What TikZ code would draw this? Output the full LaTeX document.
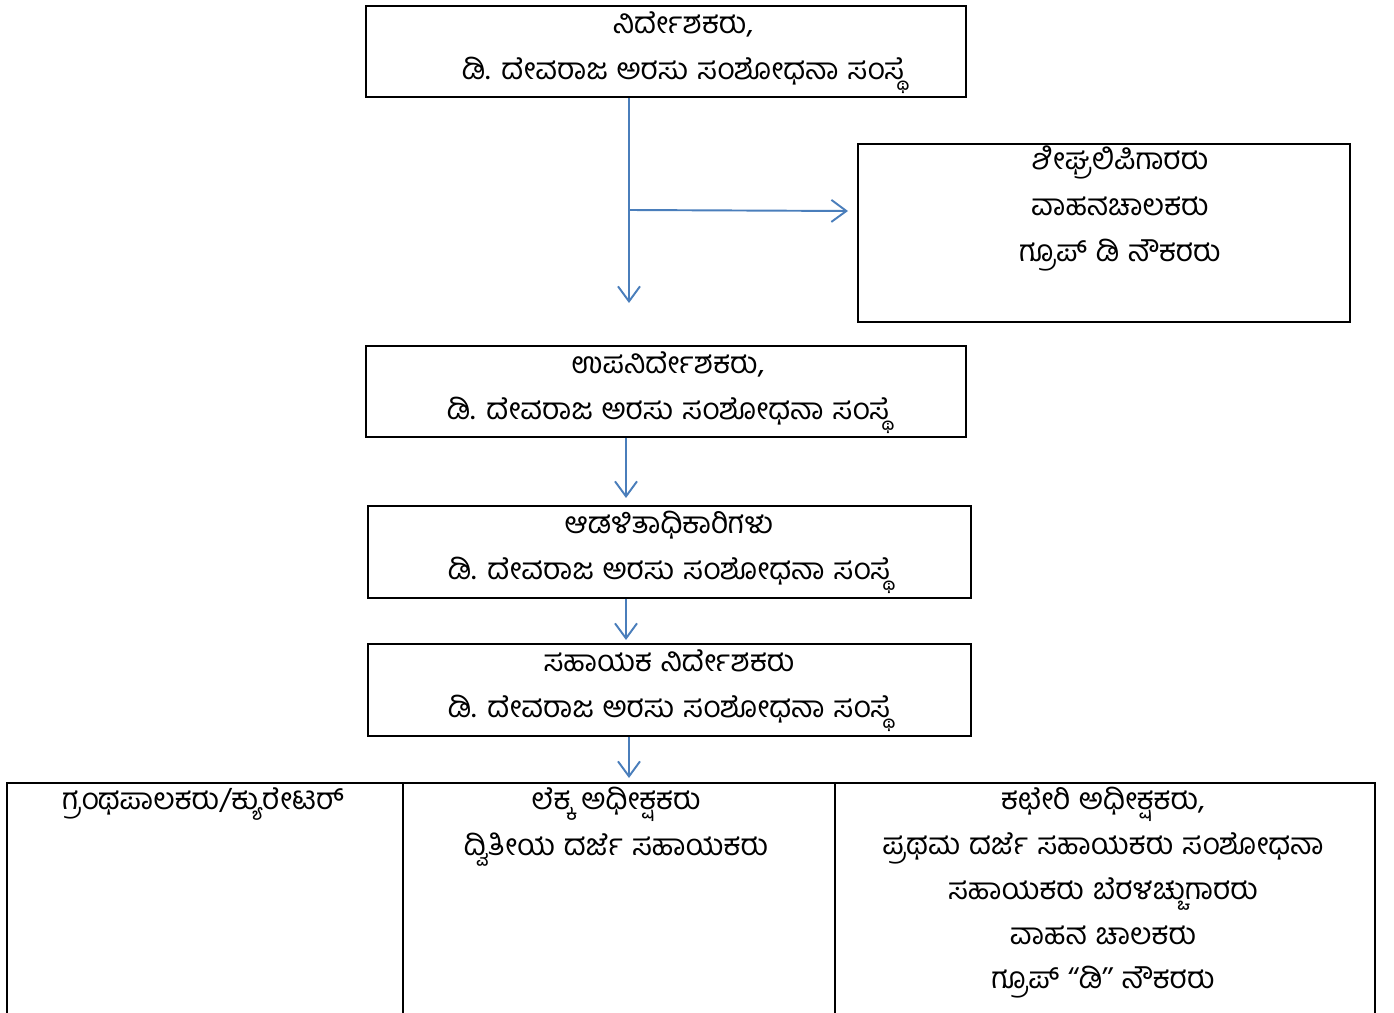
\documentclass[tikz,border=0pt]{standalone}
\usepackage{fontspec}
\newfontfamily\kanfont[Script=Kannada]{Hind Mysuru}
\usetikzlibrary{arrows.meta,positioning,calc}
\definecolor{linkblue}{RGB}{74,126,187}
\newcommand\kanwide{\spaceskip=5pt plus 1pt\relax}
\tikzset{
  kbox/.style={draw,line width=1.1pt,inner sep=0pt},
  ktext/.style={anchor=north,align=center,inner sep=0pt,
    font=\kanfont\fontsize{17}{26.2}\selectfont\kanwide,
    execute at begin node=\strut},
  link/.style={draw=linkblue,line width=1.1pt,-{Straight Barb[length=3mm,width=4.4mm]}}
}
\begin{document}
\begin{tikzpicture}[x=0.02cm,y=-0.02cm]
\pgfmathsetmacro{\ktop}{5}
\useasboundingbox (0,0) rectangle (1394,1013);
% the chain of offices
\node[kbox,minimum width=12cm,minimum height=1.82cm] (dir) at (666,51.5) {};
\node[kbox,minimum width=9.84cm,minimum height=3.56cm] (steno) at (1104,233) {};
\node[kbox,minimum width=12cm,minimum height=1.82cm] (dep) at (666,391.5) {};
\node[kbox,minimum width=12.06cm,minimum height=1.84cm] (admin) at (669.5,552) {};
\node[kbox,minimum width=12.06cm,minimum height=1.84cm] (asst) at (669.5,690) {};
% bottom row, runs off the page
\node[kbox,anchor=north west,minimum width=7.92cm,minimum height=5cm] (lib) at (6,782) {};
\node[kbox,anchor=north west,minimum width=8.64cm,minimum height=5cm] (acct) at (402,782) {};
\node[kbox,anchor=north west,minimum width=10.8cm,minimum height=5cm] (office) at (834,782) {};
% texts
\node[ktext] (dirtxt) at (683,6+\ktop) {ನಿರ್ದೇಶಕರು,\\ಡಿ. ದೇವರಾಜ ಅರಸು ಸಂಶೋಧನಾ ಸಂಸ್ಥೆ};
\node[ktext] (stenotxt) at (1120,140+\ktop) {ಶೀಘ್ರಲಿಪಿಗಾರರು\\ವಾಹನಚಾಲಕರು\\ಗ್ರೂಪ್ ಡಿ ನೌಕರರು};
\node[ktext] (deptxt) at (668,346+\ktop) {ಉಪನಿರ್ದೇಶಕರು,\\ಡಿ. ದೇವರಾಜ ಅರಸು ಸಂಶೋಧನಾ ಸಂಸ್ಥೆ};
\node[ktext] (admintxt) at (669,506+\ktop) {ಆಡಳಿತಾಧಿಕಾರಿಗಳು\\ಡಿ. ದೇವರಾಜ ಅರಸು ಸಂಶೋಧನಾ ಸಂಸ್ಥೆ};
\node[ktext] (assttxt) at (669,644+\ktop) {ಸಹಾಯಕ ನಿರ್ದೇಶಕರು\\ಡಿ. ದೇವರಾಜ ಅರಸು ಸಂಶೋಧನಾ ಸಂಸ್ಥೆ};
\node[ktext] (libtxt) at (203,777) {ಗ್ರಂಥಪಾಲಕರು/ಕ್ಯುರೇಟರ್};
\node[ktext] (accttxt) at (616,782+\ktop) {ಲೆಕ್ಕ ಅಧೀಕ್ಷಕರು\\ದ್ವಿತೀಯ ದರ್ಜೆ ಸಹಾಯಕರು};
\node[ktext,font=\kanfont\fontsize{17}{25.5}\selectfont\kanwide] (officetxt) at (1103,782+\ktop)
  {ಕಛೇರಿ ಅಧೀಕ್ಷಕರು,\\ಪ್ರಥಮ ದರ್ಜೆ ಸಹಾಯಕರು ಸಂಶೋಧನಾ\\ಸಹಾಯಕರು ಬೆರಳಚ್ಚುಗಾರರು\\ವಾಹನ ಚಾಲಕರು\\ಗ್ರೂಪ್ ‘‘ಡಿ’’ ನೌಕರರು};
% arrows
\coordinate (split) at (629,210);
\coordinate (dirend) at (629,303);
\coordinate (stenoend) at (848,211);
\draw[link] (dir.south -| split) -- (dirend);
\draw[link] (split) -- (stenoend);
\foreach \src/\kx/\ky in {dep/626/498,admin/626/640,asst/629/778}{
  \coordinate (\src-end) at (\kx,\ky);
  \draw[link] (\src.south -| \src-end) -- (\src-end);
}
\end{tikzpicture}
\end{document}
